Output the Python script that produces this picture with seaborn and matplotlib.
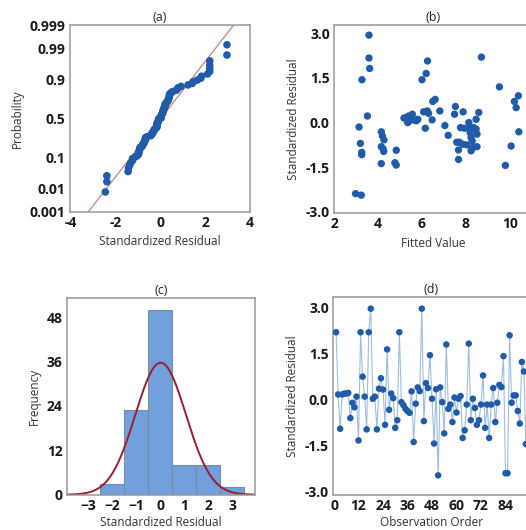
import numpy as np
import pandas as pd
import matplotlib
matplotlib.use("Agg")
import matplotlib.pyplot as plt
import seaborn as sns
from statistics import NormalDist

# standardized residuals in observation order (panel d)
resid = [2.2, 0.17, -0.95, 0.17, 0.2, 0.2, 0.22, -0.6, -0.1, -0.25, 0.1, -1.33,
         2.2, 0.75, 0.1, -0.97, 2.2, 2.97, 0.03, 0.1, -0.97, 0.36, 0.7, 0.33,
         -0.82, 1.64, -0.33, 0.2, 0.05, -0.92, -0.67, 2.2, -0.08, -0.18, -0.3, -0.37,
         -0.43, 0.27, -1.38, -0.13, 0.4, 0.28, 2.97, -0.7, 0.54, 0.38, 1.45, 0.03,
         -1.43, 0.34, -2.47, 0.4, -0.08, -1.1, 1.8, -0.3, -0.16, -0.73, 0.07, -0.42,
         0.03, 0.12, -1.25, -1.0, -0.16, 1.83, -0.67, 0.03, -0.27, -0.82, -0.67, -0.16,
         0.79, -0.92, -0.16, -1.25, -0.16, 0.38, -0.73, -0.1, 0.48, 0.41, 1.42, -2.4,
         -2.4, 2.1, -0.1, 0.14, 0.14, -0.37, -0.78, 1.23, 0.92, -1.45]

# panel b: residuals versus fitted values
fitted = [2.98, 3.24, 3.14, 3.2, 3.26, 3.26, 3.27, 3.52, 3.59, 3.59, 3.62,
          4.15, 4.2, 4.27, 4.15, 4.23, 4.26, 4.15, 4.83, 4.77, 4.83,
          5.18, 5.28, 5.4, 5.51, 5.59, 5.66, 5.74, 5.43, 5.56, 5.81, 5.35,
          6.0, 6.19, 6.25, 6.07, 6.24, 6.3, 6.15, 6.46, 6.49, 6.6, 6.81, 7.04, 7.19,
          7.52, 7.48, 7.87, 7.58, 7.7, 7.66, 7.66, 7.75, 7.93, 7.86, 8.04, 8.13, 8.16,
          8.19, 8.23, 8.28, 8.23, 8.31, 8.35, 8.46, 8.5, 8.46, 8.58, 8.5, 8.7,
          9.52, 9.79, 10.05, 10.2, 10.28, 10.38, 10.4]
fitted_resid = [-2.39, -2.44, -0.15, -0.7, -1.0, -1.08, 1.44, 0.22, 2.94, 2.17, 1.82,
                -0.31, -0.45, -0.58, -0.81, -0.88, -0.97, -1.38, -0.93, -1.35, -1.43,
                0.15, 0.17, 0.22, 0.17, 0.11, 0.08, 0.06, 0.06, 0.28, 0.11, 0.0,
                1.44, 1.65, 2.07, 0.36, 0.39, 0.31, -0.19, 0.09, 0.71, 0.78, 0.39, -0.1, -0.43,
                0.54, 0.28, 0.36, -0.66, -0.66, -0.92, -1.24, -0.17, -0.19, -0.73, -0.75, 0.0, -0.22,
                -0.34, -0.5, -0.62, -0.95, -0.84, -0.17, -0.22, -0.81, 0.11, 0.34, -0.39, 2.2,
                1.2, -1.44, -0.79, 0.71, 0.5, 0.9, -0.31]

prob_ticks = [0.001, 0.01, 0.1, 0.5, 0.9, 0.99, 0.999]
prob_labels = ["0.001", "0.01", "0.1", "0.5", "0.9", "0.99", "0.999"]
res_ticks = [-3.0, -1.5, 0.0, 1.5, 3.0]
res_labels = ["-3.0", "-1.5", "0.0", "1.5", "3.0"]

sns.set_style("white")
plt.rcParams['font.family'] = ['Open Sans', 'DejaVu Sans']

BLUE = "#1f5ba8"
W, H = 526, 530


def px_rect(l, r, t, b):
    return [l / W, 1 - b / H, (r - l) / W, (b - t) / H]


fig, axarr = plt.subplots(2, 2, figsize=(5.26, 5.30), dpi=100)
(ax_a, ax_b), (ax_c, ax_d) = axarr
ax_a.set_position(px_rect(69.5, 250, 25, 211.7))
ax_b.set_position(px_rect(334, 532, 25, 213.3))
ax_c.set_position(px_rect(66.7, 255, 298.3, 494.7))
ax_d.set_position(px_rect(333, 530, 297.3, 495))

res = np.array(resid)
n = len(res)
mu, sd = res.mean(), res.std(ddof=1)
nd = NormalDist()

# (a) normal probability plot
srt = np.sort(res)
pp = (np.arange(1, n + 1) - 0.3) / (n + 0.4)
zz = np.array([nd.inv_cdf(p) for p in pp])
zline = np.array([-3.2, 3.2])
ax_a.plot(mu + sd * zline, zline, color="#c9827c", lw=0.9, zorder=1)
sns.scatterplot(x=srt, y=zz, ax=ax_a, color=BLUE, s=30, edgecolor="none", zorder=2)
ax_a.set_xlim(-4.07, 4)
ax_a.set_ylim(nd.inv_cdf(0.001), nd.inv_cdf(0.999))
ax_a.set_xticks([-4, -2, 0, 2, 4])
ax_a.set_xticklabels(["-4", "-2", "0", "2", "4"])
ax_a.set_yticks([nd.inv_cdf(p) for p in prob_ticks])
ax_a.set_yticklabels(prob_labels)
ax_a.set_xlabel("Standardized Residual")
ax_a.set_ylabel("Probability")
ax_a.set_title("(a)")

# (b) versus fits
sns.scatterplot(x=fitted, y=fitted_resid, ax=ax_b, color=BLUE, s=28, edgecolor="none")
ax_b.set_xlim(2, 11)
ax_b.set_ylim(-3.05, 3.28)
ax_b.set_xticks([2, 4, 6, 8, 10])
ax_b.set_yticks(res_ticks)
ax_b.set_yticklabels(res_labels)
ax_b.set_xlabel("Fitted Value")
ax_b.set_ylabel("Standardized Residual")
ax_b.set_title("(b)")

# (c) histogram with normal curve
sns.histplot(x=res, bins=np.arange(-2.5, 4.0, 1.0), ax=ax_c, color="#72a0dc",
             edgecolor="#7d8a99", linewidth=0.8, alpha=1.0)
xs = np.linspace(-3.9, 3.95, 300)
ax_c.plot(xs, [n * NormalDist(mu, sd).pdf(v) for v in xs], color="#9a1f2e", lw=1.4)
ax_c.set_xlim(-3.88, 3.94)
ax_c.set_ylim(0, 53.1)
ax_c.set_xticks([-3, -2, -1, 0, 1, 2, 3])
ax_c.set_yticks([0, 12, 24, 36, 48])
ax_c.set_xlabel("Standardized Residual")
ax_c.set_ylabel("Frequency")
ax_c.set_title("(c)")

# (d) versus order
order_df = pd.DataFrame({"order": np.arange(1, n + 1), "resid": res})
sns.lineplot(data=order_df, x="order", y="resid", ax=ax_d, color="#9dbde3", lw=0.8)
sns.scatterplot(data=order_df, x="order", y="resid", ax=ax_d, color=BLUE, s=22,
                edgecolor="none", zorder=3)
ax_d.set_xlim(-0.5, 96)
ax_d.set_ylim(-3.11, 3.34)
ax_d.set_xticks(np.arange(0, 96, 12))
ax_d.set_yticks(res_ticks)
ax_d.set_yticklabels(res_labels)
ax_d.set_xlabel("Observation Order")
ax_d.set_ylabel("Standardized Residual")
ax_d.set_title("(d)")

for ax in [ax_a, ax_b, ax_c, ax_d]:
    for sp in ax.spines.values():
        sp.set_color("#999999")
        sp.set_linewidth(1.1)
    ax.tick_params(axis="both", direction="out", length=2, width=0.8, color="#999999",
                   pad=1, labelsize=10, labelcolor="#1a1a1a")
    for lb in ax.get_xticklabels() + ax.get_yticklabels():
        lb.set_fontweight("bold")
    ax.xaxis.label.set_size(8.5)
    ax.yaxis.label.set_size(8.5)
    ax.xaxis.label.set_color("#333333")
    ax.yaxis.label.set_color("#333333")
    ax.xaxis.labelpad = 4 if ax in (ax_a, ax_b) else 2
    ax.yaxis.labelpad = 4
    ax.set_title(ax.get_title(), pad=3, fontsize=9, color="#222222")

fig.savefig("out.png", dpi=100)
